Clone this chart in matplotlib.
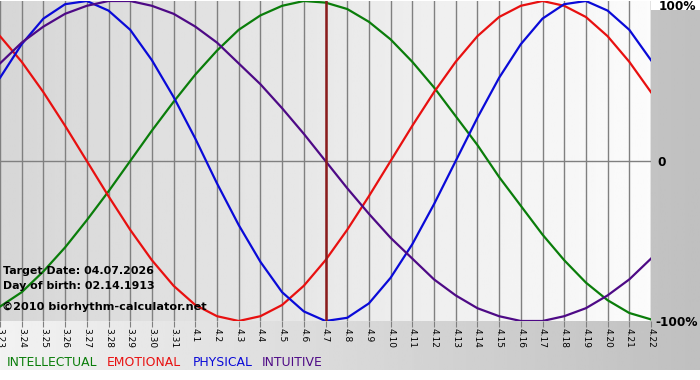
import matplotlib
matplotlib.use("Agg")
import matplotlib.pyplot as plt
import numpy as np

# day labels, 3.23 .. 4.22
day_labels = ["3.23", "3.24", "3.25", "3.26", "3.27", "3.28", "3.29", "3.30", "3.31",
              "4.1", "4.2", "4.3", "4.4", "4.5", "4.6", "4.7", "4.8", "4.9", "4.10",
              "4.11", "4.12", "4.13", "4.14", "4.15", "4.16", "4.17", "4.18", "4.19",
              "4.20", "4.21", "4.22"]
target_idx = 15  # 4.7

# daily values (-1 .. 1)
intellectual = [-0.91, -0.82, -0.69, -0.54, -0.37, -0.19, 0.00, 0.19, 0.37, 0.54,
                0.69, 0.82, 0.91, 0.97, 1.00, 0.99, 0.95, 0.87, 0.76, 0.62,
                0.46, 0.28, 0.10, -0.10, -0.28, -0.46, -0.62, -0.76, -0.87, -0.95,
                -0.99]
emotional = [0.78, 0.62, 0.43, 0.22, 0.00, -0.22, -0.43, -0.62, -0.78, -0.90,
             -0.97, -1.00, -0.97, -0.90, -0.78, -0.62, -0.43, -0.22, 0.00, 0.22,
             0.43, 0.62, 0.78, 0.90, 0.97, 1.00, 0.97, 0.90, 0.78, 0.62,
             0.43]
physical = [0.52, 0.73, 0.89, 0.98, 1.00, 0.94, 0.82, 0.63, 0.40, 0.14,
            -0.14, -0.40, -0.63, -0.82, -0.94, -1.00, -0.98, -0.89, -0.73, -0.52,
            -0.27, 0.00, 0.27, 0.52, 0.73, 0.89, 0.98, 1.00, 0.94, 0.82,
            0.63]
intuitive = [0.61, 0.74, 0.84, 0.92, 0.97, 1.00, 1.00, 0.97, 0.92, 0.84,
             0.74, 0.61, 0.48, 0.33, 0.17, 0.00, -0.17, -0.33, -0.48, -0.61,
             -0.74, -0.84, -0.92, -0.97, -1.00, -1.00, -0.97, -0.92, -0.84, -0.74,
             -0.61]

series = [
    ("INTELLECTUAL", intellectual, "#0a7d0a"),
    ("EMOTIONAL",    emotional,    "#e81010"),
    ("PHYSICAL",     physical,     "#0a0ad8"),
    ("INTUITIVE",    intuitive,    "#4e0a86"),
]

W, H = 700, 380
fig = plt.figure(figsize=(W / 100, H / 100), dpi=100)
fig.patch.set_facecolor("white")


def px(x, y):
    return x / W, 1 - y / H


# outer gradient panel (light left -> darker right)
bg = fig.add_axes([0, 10 / H, 1, 360 / H])
bg.imshow(np.linspace(0.95, 0.75, 256)[None, :], aspect="auto", cmap="gray",
          vmin=0, vmax=1, extent=(0, 1, 0, 1))
bg.set_axis_off()

ax = fig.add_axes([0, (H - 321) / H, 651 / W, 320 / H])
x = np.arange(len(day_labels))
ax.set_xlim(0, len(day_labels) - 1)
ax.set_ylim(-1, 1)
ax.imshow(np.linspace(0.84, 0.985, 256)[None, :], aspect="auto", cmap="gray",
          vmin=0, vmax=1, extent=(0, len(day_labels) - 1, -1, 1), zorder=0)

for xi in x:
    ax.axvline(xi, color="#808080", lw=1.0, zorder=1)
ax.axhline(0, color="#808080", lw=1.0, zorder=1)

for name, vals, col in series:
    ax.plot(x, vals, color=col, lw=1.6, zorder=3, solid_joinstyle="round")

ax.axvline(target_idx, color="#8b1c1c", lw=1.8, zorder=4)

for s in ax.spines.values():
    s.set_visible(False)
ax.set_xticks(x)
ax.set_xticklabels(day_labels, rotation=-90, fontsize=6.5)
ax.tick_params(axis="x", length=4, color="#808080", pad=1)
ax.set_yticks([])

# right side labels
fig.text(*px(659, 7), "100%", fontsize=8.7, fontweight="bold", va="center", ha="left")
fig.text(*px(657, 162), "0", fontsize=8.7, fontweight="bold", va="center", ha="left")
fig.text(*px(655, 322), "-100%", fontsize=8.7, fontweight="bold", va="center", ha="left")

# info text
fig.text(*px(3, 271), "Target Date: 04.07.2026", fontsize=7.9, fontweight="bold", va="center")
fig.text(*px(3, 286), "Day of birth: 02.14.1913", fontsize=7.9, fontweight="bold", va="center")
fig.text(*px(2, 307), "\u00a92010 biorhythm-calculator.net", fontsize=8.1,
         fontweight="bold", va="center")

# legend words
legend_x = [7, 107, 193, 262]
for (name, vals, col), lx in zip(series, legend_x):
    fig.text(*px(lx, 362), name, fontsize=8.9, color=col, va="center", ha="left")

fig.savefig("out.png", dpi=100)
